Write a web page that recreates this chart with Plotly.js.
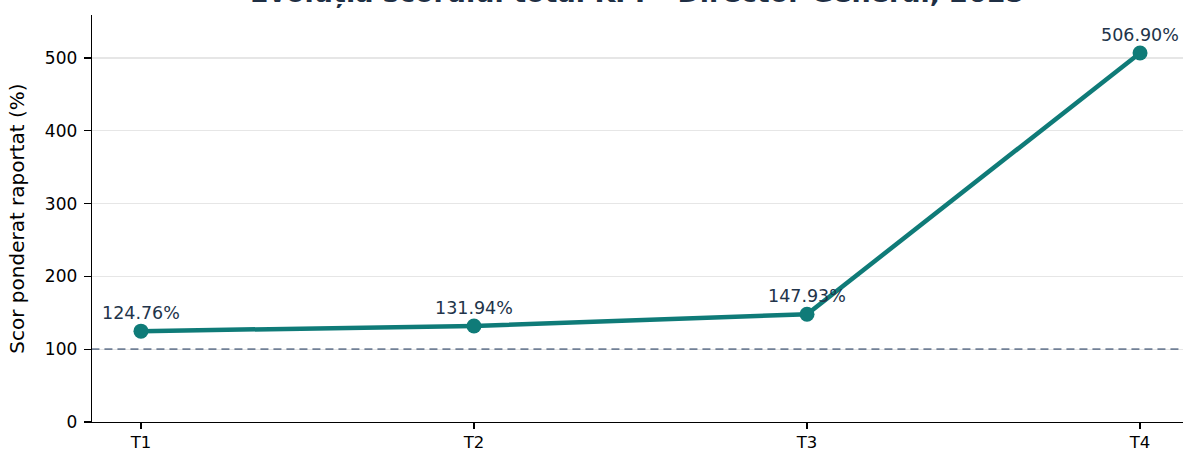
<!DOCTYPE html>
<html>
<head>
<meta charset="utf-8">
<script src="https://cdn.plot.ly/plotly-3.0.1.min.js"></script>
<style>html,body{margin:0;padding:0;background:#fff;}#chart{width:1183px;height:452px;}</style>
</head>
<body>
<div id="chart"></div>
<script>
const categories = ["T1", "T2", "T3", "T4"];
const scores = [124.76, 131.94, 147.93, 506.90];
const targetLevel = 100;
const yTicks = [0, 100, 200, 300, 400, 500];
const chartTitle = "Evoluția scorului total KPI – Director General, 2025";
const yTitle = "Scor ponderat raportat (%)";

const xIdx = categories.map((c, i) => i);
const font = "DejaVu Sans, Verdana, sans-serif";

const traces = [
  {
    x: [-0.5, 3.5],
    y: [targetLevel, targetLevel],
    mode: "lines",
    line: {color: "#718096", width: 1.8, dash: "8px,5px"},
    hoverinfo: "skip",
    showlegend: false
  },
  {
    x: xIdx,
    y: scores,
    mode: "lines+markers",
    line: {color: "#0f7b78", width: 4.5},
    marker: {color: "#0f7b78", size: 15},
    showlegend: false
  }
];

const annotations = scores.map((v, i) => ({
  x: i, y: v, xref: "x", yref: "y",
  text: v.toFixed(2) + "%",
  showarrow: false,
  yshift: 18,
  font: {family: font, size: 17.5, color: "#22344a"}
}));

annotations.push({
  xref: "paper", yref: "paper", x: 0.5, y: 1,
  xanchor: "center", yanchor: "bottom", yshift: 5,
  showarrow: false,
  text: "<b>" + chartTitle + "</b>",
  font: {family: font, size: 27, color: "#1f2f44"}
});

const layout = {
  width: 1183, height: 452,
  margin: {l: 92, r: 0, t: 15, b: 30},
  paper_bgcolor: "#fff", plot_bgcolor: "#fff",
  font: {family: font, color: "#000"},
  xaxis: {
    range: [-0.147, 3.129],
    tickmode: "array", tickvals: xIdx, ticktext: categories,
    showgrid: false, zeroline: false,
    showline: true, linecolor: "#000", linewidth: 1.3,
    ticks: "outside", ticklen: 6, tickwidth: 1.2, tickcolor: "#000",
    ticklabelstandoff: -1,
    tickfont: {family: font, size: 16.5, color: "#000"}
  },
  yaxis: {
    range: [0, 559],
    tickmode: "array", tickvals: yTicks,
    showgrid: true, gridcolor: "#e6e6e6", gridwidth: 1.2,
    zeroline: false,
    showline: true, linecolor: "#000", linewidth: 1.3,
    ticks: "outside", ticklen: 7, tickwidth: 1.2, tickcolor: "#000",
    ticklabelstandoff: 3,
    tickfont: {family: font, size: 17, color: "#000"},
    title: {text: yTitle, font: {family: font, size: 20, color: "#000"}, standoff: 14}
  },
  annotations: annotations
};

Plotly.newPlot("chart", traces, layout, {displayModeBar: false, staticPlot: true});
</script>
</body>
</html>
